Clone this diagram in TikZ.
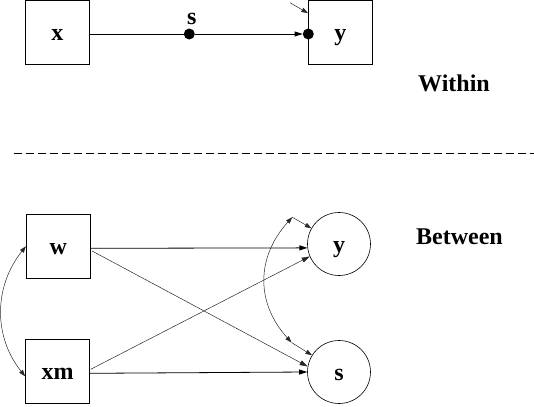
\documentclass[tikz,border=0pt]{standalone}
\usepackage{fontspec}
\setmainfont{Liberation Serif}
\usepackage{xcolor}
\usetikzlibrary{arrows.meta,calc}
\definecolor{mpInk}{RGB}{0,0,0}
\definecolor{mpThin}{RGB}{40,40,40}

\begin{document}
\begin{tikzpicture}[x=1pt,y=-1pt,
  obs/.style={draw=mpInk, line width=0.8pt, minimum width=64pt, minimum height=64pt, inner sep=0pt, text height=17pt, text depth=0pt, font=\fontsize{24}{24}\selectfont\bfseries},
  lat/.style={draw=mpInk, circle, line width=0.6pt, minimum size=63pt, inner sep=0pt, text height=16pt, text depth=0pt, font=\fontsize{24}{24}\selectfont\bfseries},
  lvl/.style={font=\fontsize{24}{24}\selectfont\bfseries},
  rdot/.style={circle, fill=mpInk, inner sep=0pt, minimum size=11pt},
  regpath/.style={mpInk, line width=0.8pt, -{Triangle[length=8pt,width=5pt]}},
  thinpath/.style={mpThin, line width=0.5pt, -{Triangle[length=8pt,width=5pt]}},
  respath/.style={mpThin, line width=0.5pt, -{Triangle[length=6.5pt,width=4.5pt]}},
  covpath/.style={mpThin, line width=0.5pt, {Triangle[length=6.5pt,width=4.5pt]}-{Triangle[length=6.5pt,width=4.5pt]}}]
\useasboundingbox (0,0) rectangle (534,406);

% within part
\node[obs] (wx) at (57.3,32) {x};
\node[obs] (wy) at (340.3,32) {y};
\node[rdot] (ws) at (189.3,34) {};
\node[rdot] (wyd) at (308.3,34) {};
\node[lvl] (wsl) at (191.7,19) {s};
\coordinate (wres) at (290,2.7);
\node[lvl] (within) at (454,83) {Within};

\draw[mpInk, line width=0.8pt] (wx.east |- ws) -- (ws);
\draw[regpath] (ws) -- (wyd);
\draw[respath] (wres) -- (wy);

% separator
\draw[mpInk, line width=0.8pt, dash pattern=on 8pt off 4pt] (14,153) -- (534,153);

% between part
\node[obs] (bw) at (58.3,246.3) {w};
\node[obs] (bxm) at (57.5,371.3) {xm};
\node[lat] (by) at (339,244) {y};
\node[lat] (bs) at (339,372) {s};
\node[lvl] (between) at (459.5,237) {Between};
\coordinate (ry) at (292.2,217.2);
\coordinate (rs) at (291.5,342.5);

\draw[regpath] ([yshift=-2pt]bw.east) -- (by.187);
\draw[thinpath] ([xshift=1.4pt,yshift=-4.7pt]bw.east) -- (bs.170);
\draw[thinpath] ([xshift=0.8pt,yshift=2pt]bxm.east) -- (by.203);
\draw[regpath] ([yshift=-2pt]bxm.east) -- (bs.180);

\draw[covpath] (bw.west) .. controls +(-32,40) and +(-32,-40) .. ([yshift=-5pt]bxm.west);
\draw[covpath] (ry) .. controls +(-36,40) and +(-36,-40) .. (rs);
\draw[respath] (ry) -- (by);
\draw[respath] (rs) -- (bs);
\end{tikzpicture}
\end{document}
